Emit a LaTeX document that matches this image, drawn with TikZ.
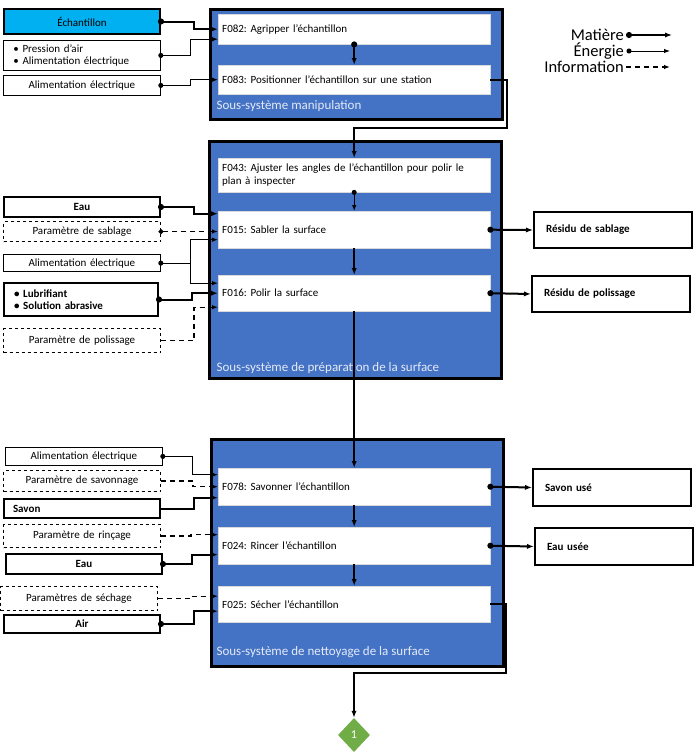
\documentclass[tikz,border=0pt]{standalone}
\usepackage{fontspec}
\setmainfont{Carlito}
\usetikzlibrary{arrows.meta,shapes.geometric}
\definecolor{sysblue}{HTML}{4472C4}
\definecolor{echblue}{HTML}{00B0F0}
\definecolor{stopgreen}{HTML}{70AD47}
\newcommand\boxfont{\fontsize{11}{12.5}\selectfont}
\frenchspacing

\begin{document}
\begin{tikzpicture}[
    x=1pt, y=-1pt,
    sysbox/.style={draw, line width=2.5pt, fill=sysblue, anchor=north west, inner sep=0pt, minimum width=292pt},
    sysname/.style={anchor=west, text=white!85!sysblue, font=\fontsize{13}{15}\selectfont},
    fnbox/.style={draw=black!15, fill=white, anchor=north west, inner sep=4pt, text width=264pt, align=left, font=\boxfont},
    matbox/.style={draw, line width=2pt, fill=white, anchor=north west, inner sep=4pt, text width=148pt, align=center, font=\boxfont\bfseries},
    enbox/.style={draw, line width=0.8pt, fill=white, anchor=north west, inner sep=4pt, text width=149pt, align=center, font=\boxfont},
    infobox/.style={draw, dashed, line width=1pt, fill=white, anchor=north west, inner sep=4pt, text width=149pt, align=center, font=\boxfont},
    outbox/.style={draw, line width=2pt, fill=white, anchor=north west, inner xsep=12pt, text width=134pt, align=left, font=\boxfont\bfseries},
    legend/.style={anchor=east, inner sep=2pt, font=\fontsize{16.5}{17}\selectfont},
    mat/.style={line width=2pt, {Circle[length=6pt]}-{Latex[length=7pt]}, shorten <=-3pt},
    matn/.style={line width=2pt, -{Latex[length=7pt]}},
    en/.style={line width=1pt, {Circle[length=5pt]}-{Latex[length=6pt]}, shorten <=-2.5pt},
    enn/.style={line width=1pt, -{Latex[length=6pt]}},
    info/.style={line width=1.2pt, dash pattern=on 5pt off 4pt, -{Latex[length=6pt]}},
    infod/.style={info, {Circle[length=5pt]}-{Latex[length=6pt]}, shorten <=-2.5pt}
]
\useasboundingbox (0,0) rectangle (698,756);

% Subsystems
\node [sysbox, minimum height=110pt] (sys1) at (209,8) {};
\node [sysbox, minimum height=237pt] (sys2) at (208,140) {};
\node [sysbox, minimum height=227pt] (sys3) at (210,438) {};
\node [sysname] (sys1name) at (213,106) {Sous-système manipulation};
\node [sysname] (sys2name) at (213,368) {Sous-système de préparation de la surface};
\node [sysname] (sys3name) at (213,652) {Sous-système de nettoyage de la surface};

% Functions
\node [fnbox, minimum height=30pt] (f082) at (218,14) {F082: Agripper l’échantillon};
\node [fnbox, minimum height=29pt] (f083) at (218,65) {F083: Positionner l’échantillon sur une station};
\node [fnbox, minimum height=34pt] (f043) at (218,158) {F043: Ajuster les angles de l’échantillon pour polir le\\plan à inspecter};
\node [fnbox, minimum height=37pt] (f015) at (218,211) {F015: Sabler la surface};
\node [fnbox, minimum height=36pt] (f016) at (218,275) {F016: Polir la surface};
\node [fnbox, minimum height=37pt] (f078) at (218,468) {F078: Savonner l’échantillon};
\node [fnbox, minimum height=37pt] (f024) at (218,527) {F024: Rincer l’échantillon};
\node [fnbox, minimum height=36pt] (f025) at (218,586) {F025: Sécher l’échantillon};

% Inputs
\node [matbox, fill=echblue, font=\boxfont, minimum height=25pt] (ech) at (3,8) {Échantillon};
\node [enbox, align=left, inner xsep=10pt, text width=137pt, minimum height=30pt] (pres) at (3,40) {• Pression d’air\\• Alimentation électrique};
\node [enbox, minimum height=20pt] (alim1) at (3,75) {Alimentation électrique};
\node [matbox, minimum height=20pt] (eau1) at (3,196) {Eau};
\node [infobox, minimum height=20pt] (psab) at (3,221) {Paramètre de sablage};
\node [enbox, minimum height=17pt] (alim2) at (3,254) {Alimentation électrique};
\node [matbox, align=left, inner xsep=10pt, text width=134pt, minimum height=33pt] (lub) at (3,282) {• Lubrifiant\\• Solution abrasive};
\node [infobox, minimum height=24pt] (ppol) at (3,328) {Paramètre de polissage};
\node [enbox, minimum height=18pt] (alim3) at (5,447) {Alimentation électrique};
\node [infobox, minimum height=21pt] (psav) at (3,470) {Paramètre de savonnage};
\node [matbox, align=left, inner xsep=9pt, text width=138pt, minimum height=19pt] (savon) at (3,498) {Savon};
\node [infobox, minimum height=23pt] (prin) at (3,524) {Paramètre de rinçage};
\node [matbox, minimum height=20pt] (eau2) at (5,553) {Eau};
\node [infobox, minimum height=24pt] (psech) at (0,586) {Paramètres de séchage};
\node [matbox, minimum height=18pt] (air) at (3,614) {Air};

% Outputs
\node [outbox, minimum height=36pt] (rsab) at (533,211) {Résidu de sablage};
\node [outbox, minimum height=36pt] (rpol) at (531,275) {Résidu de polissage};
\node [outbox, minimum height=37pt] (savu) at (532,468) {Savon usé};
\node [outbox, minimum height=37pt] (eauu) at (534,527) {Eau usée};

\node [diamond, fill=stopgreen, minimum width=32pt, minimum height=34pt, inner sep=0pt, text=white, font=\fontsize{12}{12}\selectfont] (suite) at (354,735) {1};

% Legend
\node [legend] (lmat) at (626,35) {Matière};
\node [legend] (len) at (626,51) {Énergie};
\node [legend] (linfo) at (626,67) {Information};
\coordinate (lmatend) at (672,35);
\coordinate (lenend) at (670,51);
\coordinate (linfoend) at (670,67);
\draw [mat] ([xshift=3pt]lmat.east) -- (lmatend);
\draw [en] ([xshift=3pt]len.east) -- (lenend);
\draw [info] (linfo.east) -- (linfoend);

% Connections - manipulation
\draw [mat] (ech.east) -- ++(33,0) |- (f082.west);
\draw [en] (pres.east) -- ++(30,0) |- ([yshift=-10pt]f082.west);
\draw [en] (alim1.east) -- ++(30,0) |- (f083.west);
\draw [mat] (f082.south) -- (f083.north);
\draw [matn] (f083.east) -- ++(17,0) -- ++(0,48) -| (f043.north);

% Connections - preparation
\draw [mat] (eau1.east) -- ++(33,0) |- ([yshift=16pt]f015.west);
\draw [infod] (psab.east) -- (psab.east -| f015.west);
\draw [en] (alim2.east) -- ++(30,0) coordinate (alimjoint) |- ([yshift=-10pt]f015.west);
\draw [enn] (alimjoint) |- ([yshift=10pt]f016.west);
\draw [mat] (lub.east) -- ++(33,0) |- (f016.west);
\draw [info] (ppol.east) -- ++(33,0) |- ([yshift=-14pt]f016.west);
\draw [en] (f043.south) -- (f015.north);
\draw [matn] (f015.south) -- (f016.north);
\draw [mat] (f015.east) -- (rsab.west);
\draw [mat] (f016.east) -- (rpol.west);
\draw [matn] (f016.south) -- (f078.north);

% Connections - nettoyage
\draw [en] (alim3.east) -- ++(30,0) |- ([yshift=12pt]f078.west);
\draw [info] (psav.east) -- ++(32,0) |- (f078.west);
\draw [matn] (savon.east) -- ++(33,0) |- ([yshift=-11pt]f078.west);
\draw [info] (prin.east) -- ++(30,0) |- ([yshift=11pt]f024.west);
\draw [mat] (eau2.east) -- ++(29,0) |- ([yshift=-9pt]f024.west);
\draw [info] (psech.east) -- ++(33,0) |- ([yshift=8pt]f025.west);
\draw [mat] (air.east) -- ++(33,0) |- ([yshift=-7pt]f025.west);
\draw [matn] (f078.south) -- (f024.north);
\draw [matn] (f024.south) -- (f025.north);
\draw [mat] (f078.east) -- (savu.west);
\draw [mat] (f024.east) -- (eauu.west);
\draw [matn] (f025.east) -- ++(16,0) -- ++(0,69) -| (suite.north);
\end{tikzpicture}
\end{document}
